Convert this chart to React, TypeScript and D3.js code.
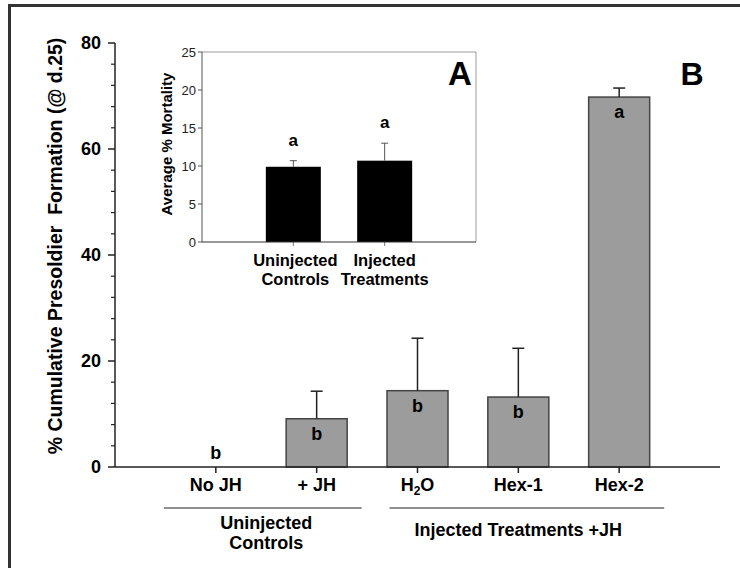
import React from 'react';
import * as d3 from 'd3';

// main panel (B)
const categories = ['No JH', '+ JH', 'H2O', 'Hex-1', 'Hex-2'];
const meanValues = [0, 9.1, 14.4, 13.2, 69.8];
const errorValues = [0, 5.2, 9.9, 9.2, 1.7];
const letters = ['b', 'b', 'b', 'b', 'a'];
const yTicks = [0, 20, 40, 60, 80];
const groups = [
  { lines: ['Uninjected', 'Controls'], members: ['No JH', '+ JH'] },
  { lines: ['Injected Treatments +JH'], members: ['H2O', 'Hex-1', 'Hex-2'] },
];

// inset panel (A)
const insetCategories = ['Uninjected Controls', 'Injected Treatments'];
const insetMeans = [9.9, 10.7];
const insetErrors = [0.8, 2.3];
const insetLetters = ['a', 'a'];
const insetTicks = [0, 5, 10, 15, 20, 25];

const FONT = '"Liberation Sans", Arial, sans-serif';

export default function App() {
  // main scales
  const x = d3.scalePoint<string>().domain(categories).range([115, 720]).padding(1);
  const y = d3.scaleLinear().domain([0, 80]).range([467, 43]);
  const minorTicks = d3.range(0, 81, 4).filter(v => v % 20 !== 0);
  const barW = 61;

  // inset scales
  const ix = d3.scalePoint<string>().domain(insetCategories).range([202, 476]).padding(1);
  const iy = d3.scaleLinear().domain([0, 25]).range([242, 52]);
  const insetBarW = 55;

  const groupPad: Record<number, [number, number]> = { 0: [52, 45], 1: [28, 45] };

  return (
    <svg width={740} height={568} style={{ position: 'absolute', left: 0, top: 0, background: '#fff' }}
      fontFamily={FONT}>
      {/* outer frame */}
      <line x1={8} x2={740} y1={5.5} y2={5.5} stroke="#333" strokeWidth={3} />
      <line x1={9.5} x2={9.5} y1={4} y2={568} stroke="#333" strokeWidth={3} />

      {/* main y axis */}
      <line x1={115} x2={115} y1={y(80)} y2={y(0)} stroke="#222" strokeWidth={1.5} />
      {yTicks.map(t => (
        <g key={t}>
          <line x1={108} x2={115} y1={y(t)} y2={y(t)} stroke="#222" strokeWidth={1.5} />
          <text x={101} y={y(t)} dy="0.36em" textAnchor="end" fontSize={18} fontWeight="bold">{t}</text>
        </g>
      ))}
      {minorTicks.map(t => (
        <line key={t} x1={111} x2={115} y1={y(t)} y2={y(t)} stroke="#222" strokeWidth={1.2} />
      ))}
      <text transform={`translate(62,246) rotate(-90)`} textAnchor="middle" fontSize={19.5} fontWeight="bold"
        style={{ whiteSpace: 'pre' }}>
        {'% Cumulative Presoldier  Formation (@ d.25)'}
      </text>

      {/* main bars */}
      {categories.map((c, i) => {
        const cx = x(c)!;
        const v = meanValues[i];
        return (
          <g key={c}>
            {v > 0 && (
              <rect x={cx - barW / 2} y={y(v)} width={barW} height={y(0) - y(v)}
                fill="#9c9c9c" stroke="#444" strokeWidth={1.5} />
            )}
            {errorValues[i] > 0 && (
              <g stroke="#222" strokeWidth={1.5}>
                <line x1={cx} x2={cx} y1={y(v)} y2={y(v + errorValues[i])} />
                <line x1={cx - 6} x2={cx + 6} y1={y(v + errorValues[i])} y2={y(v + errorValues[i])} />
              </g>
            )}
            <text x={cx} y={v > 0 ? y(v) + 21 : y(0) - 8} textAnchor="middle" fontSize={18} fontWeight="bold">
              {letters[i]}
            </text>
            <line x1={cx} x2={cx} y1={y(0)} y2={y(0) + 6} stroke="#222" strokeWidth={1.5} />
            <text x={cx} y={491} textAnchor="middle" fontSize={18} fontWeight="bold">
              {c === 'H2O' ? (
                <>H<tspan fontSize={12} dy={4}>2</tspan><tspan dy={-4}>O</tspan></>
              ) : c}
            </text>
          </g>
        );
      })}
      <line x1={115} x2={720} y1={y(0)} y2={y(0)} stroke="#222" strokeWidth={1.5} />

      {/* group labels */}
      {groups.map((g, gi) => {
        const xs = g.members.map(m => x(m)!);
        const x0 = d3.min(xs)!;
        const x1 = d3.max(xs)!;
        const mid = (x0 + x1) / 2;
        const [pl, pr] = groupPad[gi];
        const baseY = g.lines.length > 1 ? 529 : 536;
        return (
          <g key={gi}>
            <line x1={x0 - pl} x2={x1 + pr} y1={508} y2={508} stroke="#222" strokeWidth={1.2} />
            {g.lines.map((l, li) => (
              <text key={li} x={mid} y={baseY + li * 20} textAnchor="middle" fontSize={18} fontWeight="bold">{l}</text>
            ))}
          </g>
        );
      })}

      <text x={692} y={85} textAnchor="middle" fontSize={32} fontWeight="bold">B</text>

      {/* inset panel */}
      <rect x={202} y={52} width={274} height={190} fill="#fff" />
      <line x1={202} x2={476} y1={52} y2={52} stroke="#999" strokeWidth={1} />
      <line x1={476} x2={476} y1={52} y2={242} stroke="#999" strokeWidth={1} />
      <line x1={202} x2={202} y1={52} y2={242} stroke="#555" strokeWidth={1} />
      {insetTicks.map(t => (
        <g key={t}>
          <line x1={198} x2={202} y1={iy(t)} y2={iy(t)} stroke="#555" strokeWidth={1} />
          <text x={196} y={iy(t)} dy="0.36em" textAnchor="end" fontSize={13} fill="#222">{t}</text>
        </g>
      ))}
      <text transform={`translate(172,144) rotate(-90)`} textAnchor="middle" fontSize={15} fontWeight="bold">
        Average % Mortality
      </text>
      {insetCategories.map((c, i) => {
        const cx = ix(c)!;
        const v = insetMeans[i];
        const top = iy(v + insetErrors[i]);
        return (
          <g key={c}>
            <rect x={cx - insetBarW / 2} y={iy(v)} width={insetBarW} height={iy(0) - iy(v)} fill="#000" />
            <g stroke="#555" strokeWidth={1}>
              <line x1={cx} x2={cx} y1={iy(v)} y2={top} />
              <line x1={cx - 3.5} x2={cx + 3.5} y1={top} y2={top} />
            </g>
            <text x={cx} y={top - 15} textAnchor="middle" fontSize={17} fontWeight="bold">{insetLetters[i]}</text>
            <line x1={cx} x2={cx} y1={242} y2={246} stroke="#777" strokeWidth={1} />
            {c.split(' ').map((w, wi) => (
              <text key={wi} x={cx + (i === 0 ? 2 : 0)} y={266 + wi * 19} textAnchor="middle" fontSize={16.5} fontWeight="bold">{w}</text>
            ))}
          </g>
        );
      })}
      <line x1={202} x2={476} y1={242} y2={242} stroke="#333" strokeWidth={1.2} />
      <text x={460} y={85} textAnchor="middle" fontSize={33} fontWeight="bold">A</text>
    </svg>
  );
}
